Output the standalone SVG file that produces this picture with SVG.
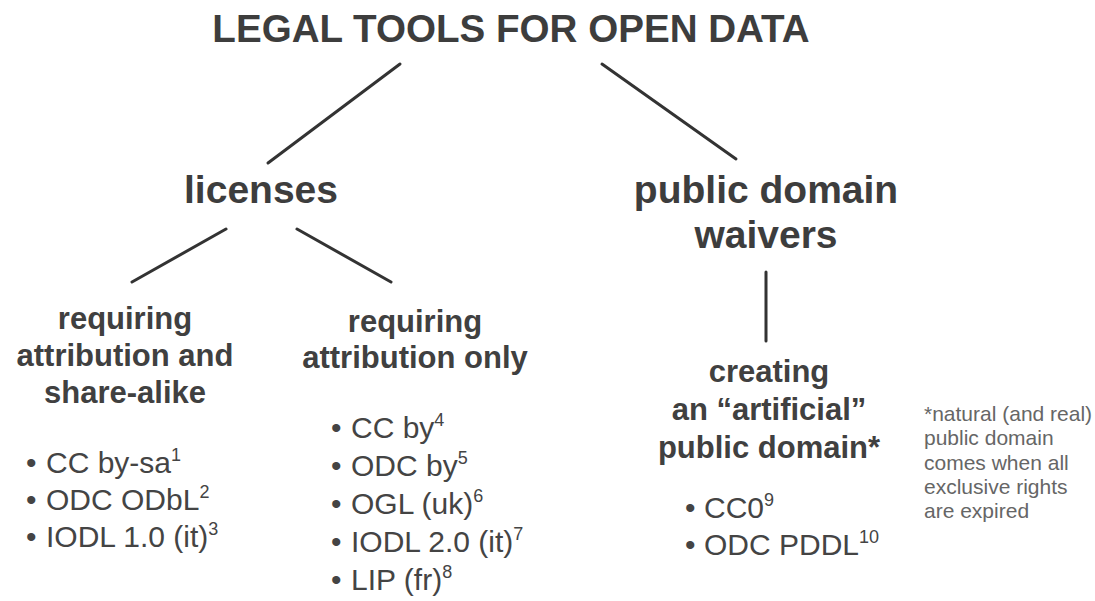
<svg xmlns="http://www.w3.org/2000/svg" width="1095" height="601" viewBox="0 0 1095 601">
<style>
  text { font-family: "Liberation Sans", Arial, sans-serif; }
  .title { font-size: 38.6px; font-weight: bold; fill: #3d3d3d; text-anchor: middle; }
  .h1 { font-size: 39px; font-weight: bold; fill: #3d3d3d; text-anchor: middle; }
  .h2 { font-size: 31px; font-weight: bold; fill: #404040; text-anchor: middle; }
  .li { font-size: 30px; fill: #444; }
  .note { font-size: 21px; fill: #666; }
  .sup { font-size: 18px; }
  .conn line { stroke: #333; stroke-width: 3; stroke-linecap: round; }
</style>
<rect width="1095" height="601" fill="#fff"/>
<g id="connectors" class="conn">
  <line x1="400" y1="64" x2="268" y2="163"/>
  <line x1="602" y1="64" x2="736" y2="159"/>
  <line x1="226" y1="229" x2="132" y2="282"/>
  <line x1="297" y1="229" x2="391" y2="282"/>
  <line x1="766" y1="272" x2="766" y2="341"/>
</g>
<g id="title">
  <text class="title" x="511" y="42">LEGAL TOOLS FOR OPEN DATA</text>
</g>
<g id="licenses">
  <text class="h1" x="261" y="203">licenses</text>
</g>
<g id="public-domain-waivers">
  <text class="h1" x="766" y="203">public domain</text>
  <text class="h1" x="766" y="248">waivers</text>
</g>
<g id="attribution-share-alike">
  <text class="h2" x="125" y="329">requiring</text>
  <text class="h2" x="125" y="366">attribution and</text>
  <text class="h2" x="125" y="403">share-alike</text>
  <text class="li" y="473"><tspan x="26">•</tspan><tspan x="46">CC by-sa</tspan><tspan class="sup" dy="-12">1</tspan></text>
  <text class="li" y="510"><tspan x="26">•</tspan><tspan x="46">ODC ODbL</tspan><tspan class="sup" dy="-12">2</tspan></text>
  <text class="li" y="547"><tspan x="26">•</tspan><tspan x="46">IODL 1.0 (it)</tspan><tspan class="sup" dy="-12">3</tspan></text>
</g>
<g id="attribution-only">
  <text class="h2" x="415" y="332">requiring</text>
  <text class="h2" x="415" y="368">attribution only</text>
  <text class="li" y="438"><tspan x="331">•</tspan><tspan x="351">CC by</tspan><tspan class="sup" dy="-12">4</tspan></text>
  <text class="li" y="476"><tspan x="331">•</tspan><tspan x="351">ODC by</tspan><tspan class="sup" dy="-12">5</tspan></text>
  <text class="li" y="514"><tspan x="331">•</tspan><tspan x="351">OGL (uk)</tspan><tspan class="sup" dy="-12">6</tspan></text>
  <text class="li" y="552"><tspan x="331">•</tspan><tspan x="351">IODL 2.0 (it)</tspan><tspan class="sup" dy="-12">7</tspan></text>
  <text class="li" y="590"><tspan x="331">•</tspan><tspan x="351">LIP (fr)</tspan><tspan class="sup" dy="-12">8</tspan></text>
</g>
<g id="artificial-public-domain">
  <text class="h2" x="769" y="382">creating</text>
  <text class="h2" x="769" y="420">an “artificial”</text>
  <text class="h2" x="769" y="458">public domain*</text>
  <text class="li" y="518"><tspan x="685">•</tspan><tspan x="704">CC0</tspan><tspan class="sup" dy="-12">9</tspan></text>
  <text class="li" y="555"><tspan x="685">•</tspan><tspan x="704">ODC PDDL</tspan><tspan class="sup" dy="-12">10</tspan></text>
</g>
<g id="note">
  <text class="note" x="924" y="421">*natural (and real)</text>
  <text class="note" x="924" y="445">public domain</text>
  <text class="note" x="924" y="470">comes when all</text>
  <text class="note" x="924" y="494">exclusive rights</text>
  <text class="note" x="924" y="518">are expired</text>
</g>
</svg>
